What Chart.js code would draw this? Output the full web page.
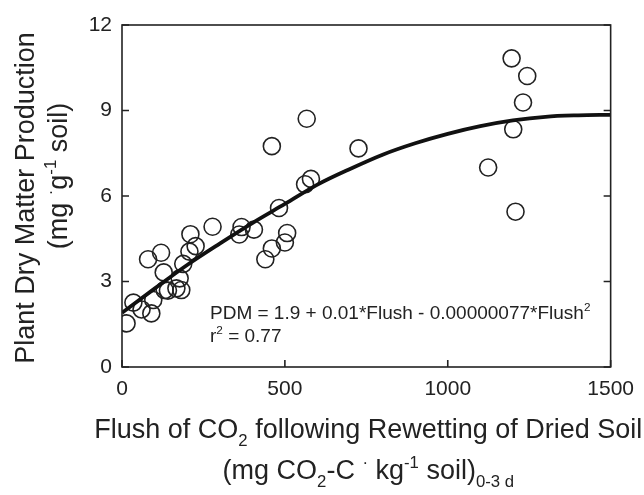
<!DOCTYPE html>
<html>
<head>
<meta charset="utf-8">
<script src="https://cdn.jsdelivr.net/npm/chart.js@4.4.1/dist/chart.umd.min.js"></script>
<style>
  html, body { margin: 0; padding: 0; background: #fff; }
</style>
</head>
<body>
<canvas id="chart" width="644" height="495"></canvas>
<script>
// flush of CO2 (mg CO2-C/kg soil) vs plant dry matter (mg/g soil)
const flush = [14, 35, 60, 90, 96, 80, 120, 128, 131, 141, 167, 182, 177, 188, 207, 210, 226,
  278, 360, 367, 405, 440, 460, 500, 507, 482, 460, 567, 562, 580, 726,
  1124, 1196, 1244, 1231, 1201, 1208];
const pdm = [1.53, 2.26, 2.02, 1.88, 2.35, 3.78, 4.01, 3.32, 2.70, 2.68, 2.76, 2.70, 3.11, 3.62, 4.05, 4.66, 4.24,
  4.92, 4.65, 4.91, 4.82, 3.78, 4.16, 4.37, 4.70, 5.58, 7.75, 8.71, 6.41, 6.60, 7.67,
  7.00, 10.83, 10.21, 9.28, 8.34, 5.45];

// fitted curve
const fitFlush = [0, 100, 200, 300, 400, 500, 600, 700, 800, 900, 1000, 1100, 1200, 1300, 1400, 1500];
const fitPdm = [1.9, 2.75, 3.58, 4.33, 5.05, 5.72, 6.4, 6.95, 7.45, 7.85, 8.18, 8.45, 8.65, 8.78, 8.83, 8.85];

const xTicks = [0, 500, 1000, 1500];
const yTicks = [0, 3, 6, 9, 12];

const FONT = '"Liberation Sans", Arial, sans-serif';
const INK = '#222';

// draw text made of pieces, some sub- or superscript
function richWidth(ctx, segs, size) {
  let w = 0;
  segs.forEach(s => {
    const fs = s.k ? size * 0.62 : size;
    ctx.font = fs + 'px ' + FONT;
    w += ctx.measureText(s.t).width;
  });
  return w;
}
function drawRich(ctx, segs, x, y, size, align) {
  let w = richWidth(ctx, segs, size);
  let cx = align === 'center' ? x - w / 2 : x;
  ctx.textBaseline = 'alphabetic';
  ctx.textAlign = 'left';
  segs.forEach(s => {
    const fs = s.k ? size * 0.62 : size;
    ctx.font = fs + 'px ' + FONT;
    let dy = 0;
    if (s.k === 'sub') dy = size * 0.3;
    if (s.k === 'sup') dy = -size * 0.42;
    ctx.fillText(s.t, cx, y + dy);
    cx += ctx.measureText(s.t).width;
  });
}

const framePlugin = {
  id: 'frame',
  afterDraw(chart) {
    const ctx = chart.ctx;
    const a = chart.chartArea;
    const xs = chart.scales.x, ys = chart.scales.y;
    ctx.save();
    ctx.strokeStyle = INK;
    ctx.lineWidth = 1.6;
    ctx.strokeRect(a.left, a.top, a.right - a.left, a.bottom - a.top);
    ctx.beginPath();
    yTicks.forEach(v => {
      const py = ys.getPixelForValue(v);
      ctx.moveTo(a.left, py); ctx.lineTo(a.left + 7, py);
      ctx.moveTo(a.right, py); ctx.lineTo(a.right - 7, py);
    });
    xTicks.forEach(v => {
      const px = xs.getPixelForValue(v);
      ctx.moveTo(px, a.bottom); ctx.lineTo(px, a.bottom - 7);
    });
    ctx.stroke();

    ctx.fillStyle = INK;
    // x title
    const mx = (a.left + a.right) / 2 + 2;
    drawRich(ctx, [{t: 'Flush of CO'}, {t: '2', k: 'sub'}, {t: ' following Rewetting of Dried Soil'}], mx, 438, 27, 'center');
    drawRich(ctx, [{t: '(mg CO'}, {t: '2', k: 'sub'}, {t: '-C '}, {t: '\u00b7', k: 'sup'}, {t: ' kg'}, {t: '-1', k: 'sup'},
      {t: ' soil)'}, {t: '0-3 d', k: 'sub'}], mx, 479, 27, 'center');
    // y title
    const my = (a.top + a.bottom) / 2;
    ctx.save();
    ctx.translate(34, my + 2);
    ctx.rotate(-Math.PI / 2);
    drawRich(ctx, [{t: 'Plant Dry Matter Production'}], 0, 0, 27, 'center');
    ctx.restore();
    ctx.save();
    ctx.translate(67, my - 20);
    ctx.rotate(-Math.PI / 2);
    drawRich(ctx, [{t: '(mg '}, {t: '\u00b7', k: 'sup'}, {t: 'g'}, {t: '-1', k: 'sup'}, {t: ' soil)'}], 0, 0, 27, 'center');
    ctx.restore();
    // equation
    drawRich(ctx, [{t: 'PDM = 1.9 + 0.01*Flush - 0.00000077*Flush'}, {t: '2', k: 'sup'}], 210, 319, 19, 'left');
    drawRich(ctx, [{t: 'r'}, {t: '2', k: 'sup'}, {t: ' = 0.77'}], 210, 342, 19, 'left');
    ctx.restore();
  }
};

new Chart(document.getElementById('chart'), {
  type: 'scatter',
  data: {
    datasets: [
      {
        label: 'Fit',
        data: fitFlush.map((x, i) => ({x: x, y: fitPdm[i]})),
        showLine: true,
        borderColor: '#111',
        borderWidth: 3.8,
        pointRadius: 0,
        cubicInterpolationMode: 'monotone',
        order: 0
      },
      {
        label: 'PDM',
        data: flush.map((x, i) => ({x: x, y: pdm[i]})),
        pointRadius: 8.5,
        pointBorderWidth: 1.6,
        pointBorderColor: INK,
        pointBackgroundColor: 'rgba(0,0,0,0)',
        order: 1
      }
    ]
  },
  options: {
    responsive: false,
    devicePixelRatio: 1,
    animation: false,
    layout: { padding: { top: 25, right: 30, left: 0, bottom: 0 } },
    plugins: { legend: { display: false }, tooltip: { enabled: false } },
    scales: {
      x: {
        type: 'linear', min: 0, max: 1500,
        afterBuildTicks: s => { s.ticks = xTicks.map(v => ({value: v})); },
        afterFit: s => { s.height = 128; },
        grid: { display: false, drawTicks: false },
        border: { display: false },
        ticks: { color: INK, font: { family: FONT, size: 21 }, padding: 10, callback: v => String(v) }
      },
      y: {
        type: 'linear', min: 0, max: 12,
        afterBuildTicks: s => { s.ticks = yTicks.map(v => ({value: v})); },
        afterFit: s => { s.width = 122; },
        grid: { display: false, drawTicks: false },
        border: { display: false },
        ticks: { color: INK, font: { family: FONT, size: 21 }, padding: 10, callback: v => String(v) }
      }
    }
  },
  plugins: [framePlugin]
});
</script>
</body>
</html>
